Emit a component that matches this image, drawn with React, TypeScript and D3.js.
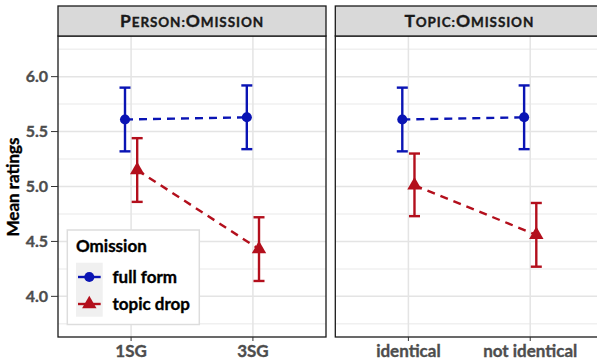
import { useEffect, useRef } from "react";
import * as d3 from "d3";

// facet titles and category levels
const panelTitles = ["Person:Omission", "Topic:Omission"];
const personLevels = ["1SG", "3SG"];
const topicLevels = ["identical", "not identical"];
const omissionLevels = ["full form", "topic drop"];

// means and error bar limits
const personFullMean = [5.61, 5.63];
const personFullLow = [5.32, 5.34];
const personFullHigh = [5.9, 5.92];
const personDropMean = [5.15, 4.43];
const personDropLow = [4.86, 4.14];
const personDropHigh = [5.44, 4.72];

const topicFullMean = [5.61, 5.63];
const topicFullLow = [5.32, 5.34];
const topicFullHigh = [5.9, 5.92];
const topicDropMean = [5.01, 4.56];
const topicDropLow = [4.73, 4.27];
const topicDropHigh = [5.3, 4.85];

const yMajor = [4.0, 4.5, 5.0, 5.5, 6.0];
const yMinor = [3.75, 4.25, 4.75, 5.25, 5.75, 6.25];

const colors = ["#0a14b4", "#b30f1c"];
const FONT = "Lato, 'Open Sans', sans-serif";

function App() {
  const ref = useRef<SVGSVGElement | null>(null);

  useEffect(() => {
    const width = 597;
    const height = 362;
    const svg = d3.select(ref.current);
    svg.selectAll("*").remove();

    const top = 36;
    const bottom = 337;
    const stripTop = 6;
    const panelW = 268;
    const panelX = [58, 335.3];

    const y = d3.scaleLinear().domain([3.63, 6.37]).range([bottom, top]);

    const panels = [
      {
        title: panelTitles[0],
        levels: personLevels,
        series: [
          { mean: personFullMean, low: personFullLow, high: personFullHigh },
          { mean: personDropMean, low: personDropLow, high: personDropHigh },
        ],
      },
      {
        title: panelTitles[1],
        levels: topicLevels,
        series: [
          { mean: topicFullMean, low: topicFullLow, high: topicFullHigh },
          { mean: topicDropMean, low: topicDropLow, high: topicDropHigh },
        ],
      },
    ];

    const dodge = [-0.05, 0.05];

    const bold = (sel: any, size: number, fill: string) =>
      sel.attr("font-family", FONT).attr("font-weight", "bold").attr("font-size", size)
        .attr("fill", fill).attr("stroke", fill).attr("stroke-width", 0.35);

    panels.forEach((p, pi) => {
      const x0 = panelX[pi];
      const x = d3.scaleLinear().domain([0.4, 2.6]).range([x0, x0 + panelW]);
      const g = svg.append("g");

      g.append("rect")
        .attr("x", x0).attr("y", top)
        .attr("width", panelW).attr("height", bottom - top)
        .attr("fill", "white");

      // grid
      g.selectAll(".minor").data(yMinor).join("line")
        .attr("x1", x0).attr("x2", x0 + panelW)
        .attr("y1", d => y(d)).attr("y2", d => y(d))
        .attr("stroke", "#f0f0f0").attr("stroke-width", 1.5);
      g.selectAll(".major").data(yMajor).join("line")
        .attr("x1", x0).attr("x2", x0 + panelW)
        .attr("y1", d => y(d)).attr("y2", d => y(d))
        .attr("stroke", "#e4e4e4").attr("stroke-width", 1.5);
      g.selectAll(".vmajor").data(p.levels).join("line")
        .attr("x1", (_, i) => x(i + 1)).attr("x2", (_, i) => x(i + 1))
        .attr("y1", top).attr("y2", bottom)
        .attr("stroke", "#e4e4e4").attr("stroke-width", 1.5);

      p.series.forEach((s, si) => {
        const pts = s.mean.map((m, i) => ({ x: x(i + 1 + dodge[si]), m, lo: s.low[i], hi: s.high[i] }));
        g.append("path")
          .attr("d", d3.line<any>().x(d => d.x).y(d => y(d.m))(pts))
          .attr("fill", "none").attr("stroke", colors[si])
          .attr("stroke-width", 2.4).attr("stroke-dasharray", "8,6");
        pts.forEach(d => {
          g.append("line")
            .attr("x1", d.x).attr("x2", d.x).attr("y1", y(d.lo)).attr("y2", y(d.hi))
            .attr("stroke", colors[si]).attr("stroke-width", 2.4);
          [d.lo, d.hi].forEach(v => {
            g.append("line")
              .attr("x1", d.x - 5.5).attr("x2", d.x + 5.5).attr("y1", y(v)).attr("y2", y(v))
              .attr("stroke", colors[si]).attr("stroke-width", 2.4);
          });
          g.append("path")
            .attr("transform", `translate(${d.x},${y(d.m)})`)
            .attr("d", d3.symbol(si === 0 ? d3.symbolCircle : d3.symbolTriangle, si === 0 ? 80 : 90)())
            .attr("fill", colors[si]);
        });
      });

      g.append("rect")
        .attr("x", x0).attr("y", top)
        .attr("width", panelW).attr("height", bottom - top)
        .attr("fill", "none").attr("stroke", "#1a1a1a").attr("stroke-width", 1.3);

      // strip with hand-made small caps
      g.append("rect")
        .attr("x", x0).attr("y", stripTop)
        .attr("width", panelW).attr("height", top - stripTop)
        .attr("fill", "#d9d9d9").attr("stroke", "#1a1a1a").attr("stroke-width", 1.3);
      const t = g.append("text")
        .attr("x", x0 + panelW / 2).attr("y", 27)
        .attr("text-anchor", "middle")
        .attr("letter-spacing", 0.9);
      bold(t, 17.5, "#1a1a1a");
      const parts = p.title.match(/([A-Z]|[^A-Z]+)/g) || [];
      parts.forEach(part => {
        const isCap = /^[A-Z]$/.test(part);
        t.append("tspan")
          .attr("font-size", isCap ? 17.5 : 13.5)
          .text(part.toUpperCase());
      });

      // x axis
      p.levels.forEach((lv, i) => {
        g.append("line")
          .attr("x1", x(i + 1)).attr("x2", x(i + 1)).attr("y1", bottom).attr("y2", bottom + 4)
          .attr("stroke", "#333");
        const xt = g.append("text")
          .attr("x", x(i + 1)).attr("y", 357)
          .attr("text-anchor", "middle")
          .text(lv);
        bold(xt, 17, "#4d4d4d");
      });
    });

    // y axis
    yMajor.forEach(v => {
      svg.append("line")
        .attr("x1", 51).attr("x2", 58).attr("y1", y(v)).attr("y2", y(v))
        .attr("stroke", "#333");
      const yt = svg.append("text")
        .attr("x", 48).attr("y", y(v)).attr("dy", "0.36em")
        .attr("text-anchor", "end")
        .text(d3.format(".1f")(v));
      bold(yt, 16, "#4d4d4d");
    });
    const yl = svg.append("text")
      .attr("transform", `translate(19,187) rotate(-90)`)
      .attr("text-anchor", "middle")
      .text("Mean ratings");
    bold(yl, 17, "black");

    // legend
    const lg = svg.append("g");
    lg.append("rect")
      .attr("x", 67.3).attr("y", 230).attr("width", 132).attr("height", 94.5)
      .attr("fill", "white").attr("stroke", "#dddddd").attr("stroke-width", 1.5);
    bold(lg.append("text").attr("x", 76).attr("y", 252).text("Omission"), 17, "black");
    lg.append("rect")
      .attr("x", 76).attr("y", 262.7).attr("width", 26.7).attr("height", 54)
      .attr("fill", "#f0f0f0");
    omissionLevels.forEach((lv, i) => {
      const ky = 277 + i * 27;
      lg.append("line")
        .attr("x1", 78).attr("x2", 100.7).attr("y1", ky).attr("y2", ky)
        .attr("stroke", colors[i]).attr("stroke-width", 2.4);
      lg.append("path")
        .attr("transform", `translate(89.3,${ky})`)
        .attr("d", d3.symbol(i === 0 ? d3.symbolCircle : d3.symbolTriangle, i === 0 ? 80 : 90)())
        .attr("fill", colors[i]);
      bold(lg.append("text")
        .attr("x", 112.5).attr("y", ky).attr("dy", "0.36em")
        .text(lv), 17, "black");
    });

    svg.attr("width", width).attr("height", height);
  }, []);

  return (
    <svg
      ref={ref}
      width={597}
      height={362}
      style={{ position: "absolute", left: 0, top: 0, display: "block", background: "white" }}
    />
  );
}

export default App;
